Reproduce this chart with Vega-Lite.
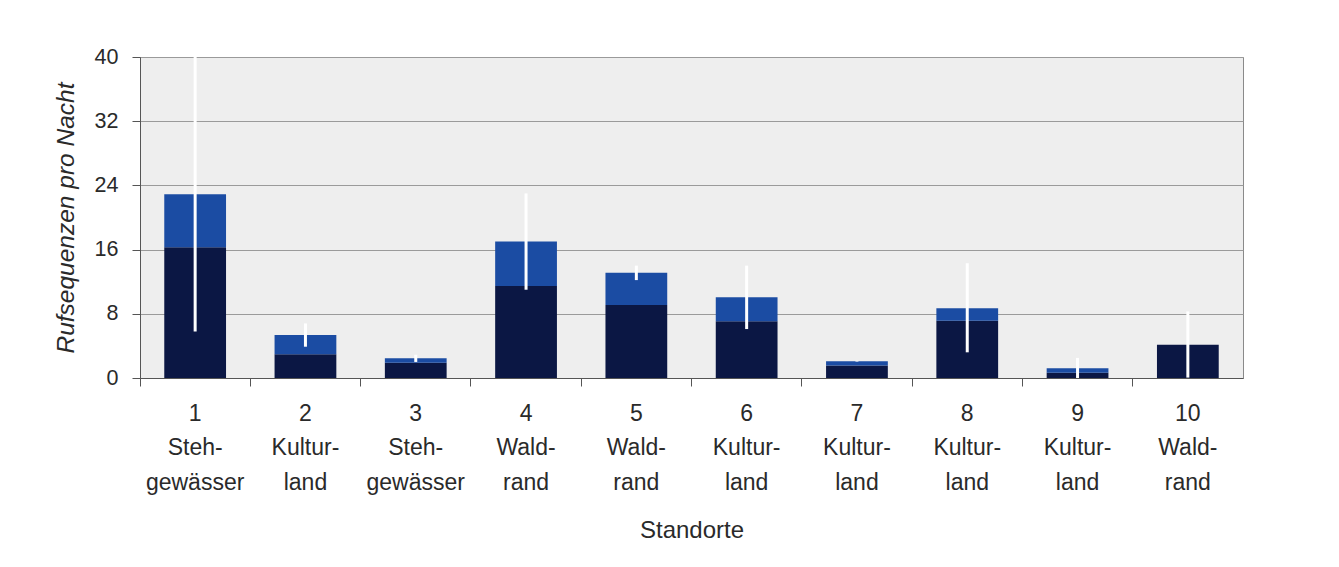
{
  "$schema": "https://vega.github.io/schema/vega-lite/v6.json",
  "autosize": {"type": "none"},
  "padding": {"left": 140, "top": 57, "right": 96, "bottom": 189},
  "width": 1103,
  "height": 321,
  "background": "#ffffff",
  "config": {
    "view": {"fill": "#eeeeee", "stroke": "#8a8a8a", "strokeWidth": 1},
    "font": "Liberation Sans",
    "axis": {
      "labelFont": "Liberation Sans",
      "titleFont": "Liberation Sans",
      "labelColor": "#2a2a2a",
      "titleColor": "#2a2a2a",
      "titleFontWeight": "normal",
      "domainColor": "#555555",
      "tickColor": "#555555"
    }
  },
  "data": {
    "values": [
      {"site": 1, "label": "1|Steh-|gewässer", "part": "a", "order": 1, "value": 16.3},
      {"site": 1, "label": "1|Steh-|gewässer", "part": "b", "order": 2, "value": 6.6, "lo": 5.8, "hi": 40},
      {"site": 2, "label": "2|Kultur-|land", "part": "a", "order": 1, "value": 2.95},
      {"site": 2, "label": "2|Kultur-|land", "part": "b", "order": 2, "value": 2.4, "lo": 3.9, "hi": 6.8},
      {"site": 3, "label": "3|Steh-|gewässer", "part": "a", "order": 1, "value": 1.9},
      {"site": 3, "label": "3|Steh-|gewässer", "part": "b", "order": 2, "value": 0.55, "lo": 2.0, "hi": 2.9},
      {"site": 4, "label": "4|Wald-|rand", "part": "a", "order": 1, "value": 11.45},
      {"site": 4, "label": "4|Wald-|rand", "part": "b", "order": 2, "value": 5.55, "lo": 11.0, "hi": 23.0},
      {"site": 5, "label": "5|Wald-|rand", "part": "a", "order": 1, "value": 9.1},
      {"site": 5, "label": "5|Wald-|rand", "part": "b", "order": 2, "value": 4.0, "lo": 12.2, "hi": 14.0},
      {"site": 6, "label": "6|Kultur-|land", "part": "a", "order": 1, "value": 7.06},
      {"site": 6, "label": "6|Kultur-|land", "part": "b", "order": 2, "value": 3.0, "lo": 6.1, "hi": 14.0},
      {"site": 7, "label": "7|Kultur-|land", "part": "a", "order": 1, "value": 1.55},
      {"site": 7, "label": "7|Kultur-|land", "part": "b", "order": 2, "value": 0.55, "lo": 2.05, "hi": 2.15},
      {"site": 8, "label": "8|Kultur-|land", "part": "a", "order": 1, "value": 7.14},
      {"site": 8, "label": "8|Kultur-|land", "part": "b", "order": 2, "value": 1.54, "lo": 3.2, "hi": 14.3},
      {"site": 9, "label": "9|Kultur-|land", "part": "a", "order": 1, "value": 0.66},
      {"site": 9, "label": "9|Kultur-|land", "part": "b", "order": 2, "value": 0.54, "lo": 0, "hi": 2.5},
      {"site": 10, "label": "10|Wald-|rand", "part": "a", "order": 1, "value": 4.15},
      {"site": 10, "label": "10|Wald-|rand", "part": "b", "order": 2, "value": 0, "lo": 0.05, "hi": 8.3}
    ]
  },
  "encoding": {
    "x": {
      "field": "label",
      "type": "ordinal",
      "sort": {"field": "site", "op": "min"},
      "scale": {"paddingInner": 0, "paddingOuter": 0},
      "axis": {
        "title": "Standorte",
        "titleFontSize": 24,
        "titlePadding": 24,
        "labelAngle": 0,
        "labelExpr": "split(datum.label, '|')",
        "labelFontSize": 23,
        "labelLineHeight": 34.5,
        "labelBaseline": "top",
        "labelPadding": 16,
        "tickSize": 8,
        "bandPosition": 0,
        "grid": false
      }
    }
  },
  "layer": [
    {
      "mark": {"type": "bar", "width": {"band": 0.56}},
      "encoding": {
        "y": {
          "field": "value",
          "type": "quantitative",
          "stack": "zero",
          "scale": {"domain": [0, 40], "nice": false},
          "axis": {
            "title": "Rufsequenzen pro Nacht",
            "titleFontStyle": "italic",
            "titleFontSize": 24.5,
            "titlePadding": 16,
            "values": [0, 8, 16, 24, 32, 40],
            "labelFontSize": 21.5,
            "labelPadding": 14,
            "tickSize": 8,
            "grid": true,
            "gridColor": "#9a9a9a",
            "gridWidth": 1
          }
        },
        "color": {
          "field": "part",
          "type": "nominal",
          "scale": {"domain": ["a", "b"], "range": ["#0b1744", "#1b4ca3"]},
          "legend": null
        },
        "order": {"field": "order", "type": "quantitative"}
      }
    },
    {
      "mark": {"type": "rule", "color": "#ffffff", "strokeWidth": 3},
      "encoding": {
        "y": {"field": "lo", "type": "quantitative"},
        "y2": {"field": "hi"}
      }
    }
  ]
}
